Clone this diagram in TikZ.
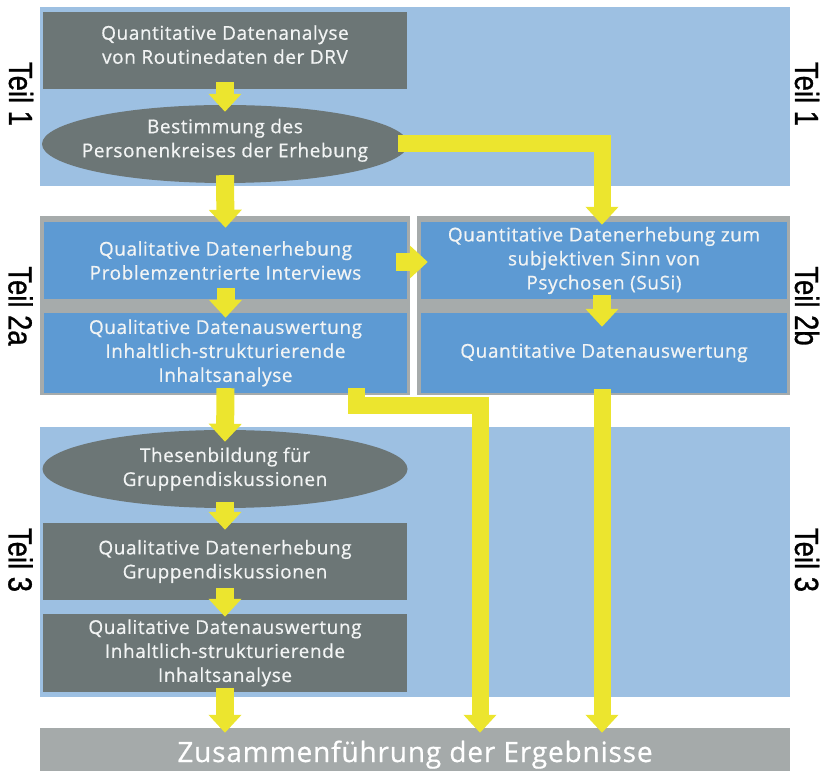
\documentclass[tikz,border=0pt]{standalone}
\usepackage{fontspec}
\setmainfont{Open Sans}
\newfontfamily\boxfont{Open Sans}[LetterSpace=3,FakeBold=0.6]
\newfontfamily\teilfont{Liberation Sans}[FakeStretch=0.82,FakeBold=0.8]
\usetikzlibrary{arrows.meta,shapes.geometric}
\definecolor{bandblue}{HTML}{9DC0E2}
\definecolor{boxblue}{HTML}{5D9AD3}
\definecolor{framegray}{HTML}{A6ABAB}
\definecolor{darkbox}{HTML}{6C7676}
\definecolor{arrowyellow}{HTML}{ECE52E}
\definecolor{resultgray}{HTML}{A5AAAA}
\definecolor{boxtext}{HTML}{F2F4F4}
\begin{document}
\begin{tikzpicture}[x=1pt,y=1pt,
  bandbox/.style={rectangle, fill=bandblue, draw=none, inner sep=0pt},
  framebox/.style={rectangle, fill=framegray, draw=none, inner sep=0pt},
  darkrect/.style={rectangle, fill=darkbox, draw=none, text=boxtext, align=center, inner sep=0pt, font=\boxfont\fontsize{19}{24}\selectfont},
  darkoval/.style={ellipse, fill=darkbox, draw=none, text=boxtext, align=center, inner sep=-40pt, font=\boxfont\fontsize{19}{24}\selectfont},
  bluerect/.style={rectangle, fill=boxblue, draw=none, text=boxtext, align=center, inner sep=0pt, font=\boxfont\fontsize{19}{24}\selectfont},
  teil/.style={rotate=-90, text=black, inner sep=0pt, font=\teilfont\fontsize{33.5}{36}\selectfont},
  yarr/.style={draw=arrowyellow, line width=18pt, line join=miter, -{Triangle[width=32pt,length=18pt]}},
  yarrlong/.style={yarr, line width=17pt},
]
\useasboundingbox (0,0) rectangle (824,771);
% bands
\node[bandbox, minimum width=750, minimum height=179] (band1) at (415,674.5) {};
\node[bandbox, minimum width=750, minimum height=270] (band3) at (415,209) {};
\node[framebox, minimum width=370, minimum height=179] (frame2a) at (225,465.5) {};
\node[framebox, minimum width=373, minimum height=179] (frame2b) at (603.5,465.5) {};
% Teil 1
\node[darkrect, minimum width=364, minimum height=77, text depth=12pt] (b1) at (225,720.5) {Quantitative Datenanalyse\\von Routinedaten der DRV};
\node[darkoval, minimum width=366, minimum height=78, text depth=12pt] (e1) at (225,627) {Bestimmung des\\Personenkreises der Erhebung};
% Teil 2a / 2b
\node[bluerect, minimum width=363, minimum height=77] (b2a1) at (225.5,510.5) {Qualitative Datenerhebung\\Problemzentrierte Interviews};
\node[bluerect, minimum width=363, minimum height=80] (b2a2) at (225.5,418) {Qualitative Datenauswertung\\Inhaltlich-strukturierende\\Inhaltsanalyse};
\node[bluerect, minimum width=366, minimum height=77] (b2b1) at (604,510.5) {Quantitative Datenerhebung zum\\subjektiven Sinn von\\Psychosen (SuSi)};
\node[bluerect, minimum width=366, minimum height=80] (b2b2) at (604,418) {Quantitative Datenauswertung};
% Teil 3
\node[darkoval, minimum width=365, minimum height=78] (e3) at (225,302) {Thesenbildung für\\Gruppendiskussionen};
\node[darkrect, minimum width=364, minimum height=77] (b3a) at (225,209.5) {Qualitative Datenerhebung\\Gruppendiskussionen};
\node[darkrect, minimum width=364, minimum height=78] (b3b) at (225,118) {Qualitative Datenauswertung\\Inhaltlich-strukturierende\\Inhaltsanalyse};
% result
\node[rectangle, fill=resultgray, draw=none, text=white, inner sep=0pt, minimum width=750, minimum height=43, text height=25pt, text depth=0pt, font=\boxfont\fontsize{28}{30}\selectfont] (res) at (415,21.5) {Zusammenführung der Ergebnisse};
% labels
\node[teil] (t1l) at (21,677) {Teil 1};
\node[teil] (t1r) at (807,677) {Teil 1};
\node[teil] (t2a) at (20.5,465) {Teil 2a};
\node[teil] (t2b) at (807,465) {Teil 2b};
\node[teil] (t3l) at (20.5,211) {Teil 3};
\node[teil] (t3r) at (807,211) {Teil 3};
% connectors
\coordinate (t9) at (res.north -| b2b2.south);
\coordinate (t12) at (res.north -| b3b.south);
\draw[yarr] ([yshift=7]b1.south) -- ([yshift=-7]e1.north);
\draw[yarr] ([yshift=8]e1.south) -- ([yshift=-6]b2a1.north);
\draw[yarrlong] ([xshift=-10]e1.east) -| ([xshift=-2,yshift=-3]b2b1.north);
\draw[yarr] ([yshift=11]b2a1.south) -- ([yshift=-5]b2a2.north);
\draw[yarr] ([xshift=-11,yshift=-1.5]b2a1.east) -- ([xshift=7,yshift=-1.5]b2b1.west);
\draw[yarr] ([xshift=-2,yshift=4]b2b1.south) -- ([xshift=-2,yshift=-14]b2b2.north);
\draw[yarr] ([yshift=5]b2a2.south) -- ([yshift=-12]e3.north);
\draw[yarrlong] ([xshift=131,yshift=5]b2a2.south) -- ++(0,-17) -| ([xshift=65,yshift=-5]res.north);
\draw[yarrlong] ([xshift=-2,yshift=4]b2b2.south) -- ([xshift=-2,yshift=-5]t9);
\draw[yarr] ([yshift=6]e3.south) -- ([yshift=-7]b3a.north);
\draw[yarr] ([yshift=12]b3a.south) -- ([yshift=-3]b3b.north);
\draw[yarr] ([yshift=4]b3b.south) -- ([yshift=-5]t12);
\end{tikzpicture}
\end{document}
